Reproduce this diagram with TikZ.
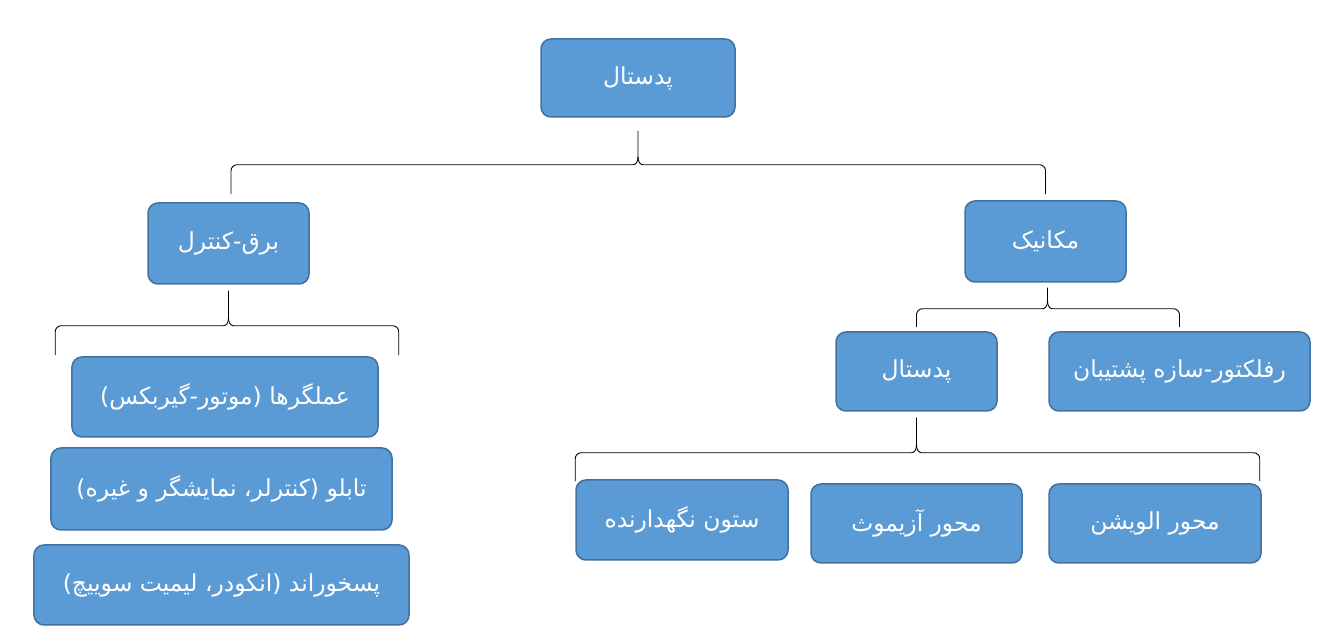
\documentclass[tikz,border=0pt]{standalone}
\usepackage{fontspec}
\newfontfamily\fafont[Script=Arabic]{DejaVu Sans}
\TeXXeTstate=1
\usetikzlibrary{positioning,calc}
\newcommand{\fa}[1]{{\fafont\beginR #1\endR}}
% curly brace: tip, left end, right end, depth of the bar
\newcommand{\curly}[4]{%
  \draw[brc] (#1) -- ++(0,-#4+8) to[out=-90,in=0] ++(-5,-8) [rounded corners=6] -| (#2);
  \draw[brc] (#1) ++(0,-#4+8) to[out=-90,in=180] ++(5,-8) [rounded corners=6] -| (#3);}
\definecolor{boxfill}{HTML}{5B9BD5}
\definecolor{boxline}{HTML}{41719C}

\begin{document}
\begin{tikzpicture}[
  x=1bp,y=1bp,
  box/.style={draw=boxline,fill=boxfill,line width=1.5bp,rounded corners=10bp,
    text=white,font=\fontsize{23.5}{27}\selectfont,inner sep=0pt},
  brc/.style={black,line width=0.9bp}
  ]
  \useasboundingbox (0,0) rectangle (1338,643);
  % Root
  \node[box,minimum width=194bp,minimum height=78bp] (ped) at (638,565) {\fa{پدستال}};
  % Second level
  \node[box,minimum width=161bp,minimum height=81bp] (elec) at (228.5,399.5) {\fa{برق-کنترل}};
  \node[box,minimum width=161bp,minimum height=81bp] (mech) at (1045.5,401.5) {\fa{مکانیک}};
  % Electrical parts
  \node[box,minimum width=306bp,minimum height=80bp] (act) at (225,246) {\fa{عملگرها (موتور-گیربکس)}};
  \node[box,minimum width=341bp,minimum height=82bp] (panel) at (221.5,154) {\fa{تابلو (کنترلر، نمایشگر و غیره)}};
  \node[box,minimum width=375bp,minimum height=80bp] (fdbk) at (221.5,58) {\fa{پسخوراند (انکودر، لیمیت سوییچ)}};
  % Mechanical parts
  \node[box,minimum width=161bp,minimum height=79bp] (ped2) at (916.5,271.5) {\fa{پدستال}};
  \node[box,minimum width=261bp,minimum height=79bp] (refl) at (1179.5,271.5) {\fa{رفلکتور-سازه پشتیبان}};
  \node[box,minimum width=212bp,minimum height=80bp] (col) at (682,123) {\fa{ستون نگهدارنده}};
  \node[box,minimum width=211bp,minimum height=79bp] (azi) at (916.5,119.5) {\fa{محور آزیموث}};
  \node[box,minimum width=212bp,minimum height=79bp] (elev) at (1155,119.5) {\fa{محور الویشن}};
  % Braces
  \curly{$(ped.south)+(0,-13)$}{$(elec.north)+(2.5,8)$}{$(mech.north)+(0,6)$}{34}
  \curly{$(elec.south)+(0,-6)$}{$(act.north west)+(-16,1)$}{$(act.north east)+(20,1)$}{35}
  \curly{$(mech.south)+(2,-5)$}{$(ped2.north)+(0,4)$}{$(refl.north)+(0,4)$}{21}
  \curly{$(ped2.south)+(0,-6)$}{$(col.north west)+(0,-2)$}{$(elev.north east)+(-2,2)$}{35}
\end{tikzpicture}
\end{document}
